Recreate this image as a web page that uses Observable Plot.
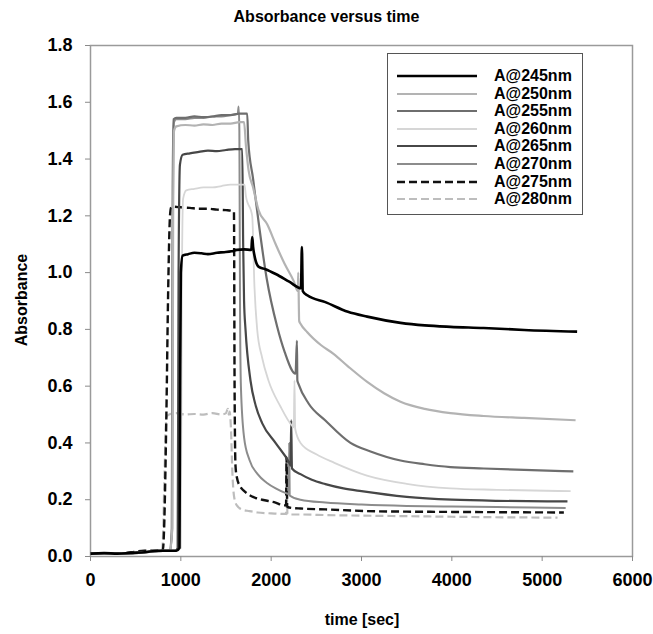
<!DOCTYPE html>
<html>
<head>
<meta charset="utf-8">
<script src="https://cdn.jsdelivr.net/npm/d3@7"></script>
<script src="https://cdn.jsdelivr.net/npm/@observablehq/plot@0.6"></script>
<style>
  html, body { margin: 0; padding: 0; background: #fff; }
  #wrap { position: relative; width: 653px; height: 634px; font-family: "Liberation Sans", Arial, sans-serif; font-weight: bold; color: #000; }
  #title { position: absolute; top: 8px; left: 0; width: 653px; text-align: center; font-size: 16px; }
  #chart { position: absolute; top: 32px; left: 0; }
  #ylabel { position: absolute; left: 22px; top: 300px; transform: translate(-50%, -50%) rotate(-90deg); font-size: 16px; white-space: nowrap; }
  #xlabel { position: absolute; left: 362px; top: 620px; transform: translate(-50%, -50%); font-size: 16px; white-space: nowrap; }
  #legend { position: absolute; left: 387px; top: 53px; width: 196px; height: 162px; border: 1px solid #555; background: #fff; box-sizing: border-box; }
  .row { position: absolute; left: 0; height: 16px; display: flex; align-items: center; }
  .row svg { margin-left: 9px; }
  .row span { margin-left: 17px; font-size: 16px; line-height: 16px; }
</style>
</head>
<body>
<div id="wrap">
  <div id="title">Absorbance versus time</div>
  <div id="chart"></div>
  <div id="ylabel">Absorbance</div>
  <div id="xlabel">time [sec]</div>
  <div id="legend"></div>
</div>
<script>
// ---- data ----
const seriesNames = ["A@245nm", "A@250nm", "A@255nm", "A@260nm", "A@265nm", "A@270nm", "A@275nm", "A@280nm"];
const xTicks = [0, 1000, 2000, 3000, 4000, 5000, 6000];
const yTicks = [0, 0.2, 0.4, 0.6, 0.8, 1.0, 1.2, 1.4, 1.6, 1.8];

const t245 = [0, 150, 300, 450, 600, 750, 850, 950, 985, 992, 1000, 1020, 1080, 1150, 1230, 1300, 1400, 1480, 1560, 1620, 1700, 1780, 1790, 1800, 1815, 1827, 1863, 1937, 2050, 2200, 2330, 2340, 2350, 2400, 2600, 2850, 3063, 3432, 3700, 3985, 4352, 4800, 5387];
const a245 = [0.01, 0.012, 0.01, 0.013, 0.015, 0.02, 0.02, 0.02, 0.03, 0.6, 1.0, 1.06, 1.065, 1.07, 1.068, 1.065, 1.07, 1.072, 1.075, 1.08, 1.082, 1.08, 1.125, 1.09, 1.06, 1.043, 1.02, 1.012, 0.995, 0.968, 0.945, 1.09, 0.935, 0.92, 0.896, 0.862, 0.845, 0.823, 0.814, 0.809, 0.805, 0.798, 0.792];

const t250 = [0, 200, 400, 600, 800, 880, 905, 915, 925, 950, 1050, 1150, 1250, 1350, 1450, 1550, 1650, 1700, 1720, 1750, 1800, 1860, 1956, 2050, 2150, 2250, 2295, 2300, 2310, 2325, 2400, 2550, 2690, 2850, 3063, 3250, 3432, 3700, 3985, 4352, 4800, 5370];
const a250 = [0.01, 0.01, 0.012, 0.015, 0.02, 0.02, 0.1, 1.2, 1.5, 1.515, 1.52, 1.518, 1.522, 1.52, 1.525, 1.525, 1.53, 1.53, 1.45, 1.36, 1.3, 1.22, 1.17, 1.1, 1.03, 0.97, 0.935, 1.0, 0.83, 0.82, 0.79, 0.745, 0.714, 0.67, 0.615, 0.575, 0.545, 0.52, 0.505, 0.495, 0.488, 0.48];

const t255 = [0, 200, 400, 600, 800, 880, 900, 910, 920, 950, 1050, 1150, 1250, 1350, 1450, 1550, 1650, 1735, 1746, 1800, 1860, 1950, 2066, 2150, 2270, 2285, 2290, 2300, 2414, 2600, 2878, 3100, 3432, 3700, 3985, 4352, 4800, 5345];
const a255 = [0.01, 0.012, 0.01, 0.015, 0.02, 0.02, 0.1, 1.3, 1.54, 1.545, 1.545, 1.55, 1.548, 1.55, 1.555, 1.555, 1.56, 1.56, 1.465, 1.33, 1.18, 0.98, 0.81, 0.72, 0.644, 0.76, 0.62, 0.61, 0.539, 0.479, 0.4, 0.37, 0.338, 0.325, 0.315, 0.31, 0.305, 0.3];

const t260 = [0, 200, 400, 600, 800, 950, 1000, 1010, 1025, 1060, 1150, 1250, 1350, 1450, 1550, 1650, 1705, 1720, 1790, 1815, 1845, 1900, 1970, 2100, 2233, 2250, 2258, 2266, 2325, 2500, 2700, 3060, 3500, 3985, 4500, 5315];
const a260 = [0.01, 0.01, 0.012, 0.015, 0.02, 0.02, 0.03, 0.9, 1.26, 1.29, 1.295, 1.3, 1.3, 1.305, 1.31, 1.31, 1.31, 1.27, 1.2, 0.95, 0.8, 0.7, 0.62, 0.53, 0.46, 0.455, 0.62, 0.45, 0.4, 0.36, 0.33, 0.285, 0.256, 0.24, 0.235, 0.23];

const t265 = [0, 200, 400, 600, 800, 940, 965, 975, 990, 1020, 1100, 1200, 1300, 1400, 1500, 1600, 1680, 1690, 1700, 1716, 1771, 1830, 1900, 2048, 2200, 2215, 2222, 2230, 2325, 2450, 2600, 2800, 3000, 3500, 4000, 4500, 5280];
const a265 = [0.01, 0.012, 0.01, 0.015, 0.02, 0.02, 0.03, 1.0, 1.38, 1.415, 1.42, 1.425, 1.43, 1.428, 1.432, 1.435, 1.435, 1.1, 0.9, 0.8, 0.62, 0.53, 0.47, 0.4, 0.33, 0.32, 0.48, 0.31, 0.29, 0.27, 0.255, 0.24, 0.23, 0.21, 0.2, 0.196, 0.194];

const t270 = [0, 200, 400, 600, 800, 880, 905, 912, 925, 950, 1050, 1150, 1250, 1350, 1450, 1550, 1630, 1640, 1648, 1655, 1665, 1700, 1760, 1850, 1950, 2050, 2150, 2195, 2200, 2205, 2325, 2600, 3000, 3500, 4000, 4500, 5260];
const a270 = [0.01, 0.01, 0.012, 0.015, 0.02, 0.02, 0.1, 1.2, 1.53, 1.54, 1.54, 1.545, 1.545, 1.55, 1.55, 1.555, 1.56, 1.585, 1.5, 0.9, 0.6, 0.42, 0.34, 0.29, 0.26, 0.24, 0.225, 0.22, 0.4, 0.215, 0.2, 0.19, 0.183, 0.178, 0.176, 0.174, 0.171];

const t275 = [0, 150, 300, 450, 600, 750, 800, 815, 840, 860, 880, 893, 920, 1000, 1100, 1200, 1300, 1400, 1500, 1560, 1588, 1595, 1605, 1620, 1660, 1697, 1805, 1900, 2048, 2140, 2165, 2170, 2178, 2233, 2325, 2600, 3063, 3500, 4000, 4600, 5240];
const a275 = [0.01, 0.012, 0.01, 0.015, 0.02, 0.02, 0.02, 0.1, 0.5, 0.94, 1.2, 1.23, 1.232, 1.23, 1.228, 1.225, 1.225, 1.222, 1.22, 1.218, 1.215, 0.6, 0.32, 0.279, 0.245, 0.232, 0.209, 0.2, 0.19, 0.18, 0.18, 0.35, 0.175, 0.171, 0.169, 0.166, 0.16, 0.158, 0.157, 0.156, 0.155];

const t280 = [0, 150, 300, 450, 600, 750, 790, 800, 820, 840, 870, 950, 1050, 1150, 1250, 1350, 1450, 1500, 1520, 1530, 1540, 1555, 1570, 1590, 1620, 1680, 1760, 1850, 2000, 2150, 2165, 2172, 2180, 2300, 2600, 3000, 3500, 4000, 4600, 5170];
const a280 = [0.01, 0.012, 0.01, 0.015, 0.02, 0.02, 0.02, 0.05, 0.3, 0.49, 0.5, 0.505, 0.5, 0.502, 0.5, 0.505, 0.5, 0.505, 0.52, 0.5, 0.51, 0.45, 0.3, 0.21, 0.18, 0.165, 0.16, 0.155, 0.152, 0.15, 0.15, 0.28, 0.148, 0.148, 0.146, 0.144, 0.142, 0.14, 0.138, 0.137];

// ---- styles (separate from data) ----
const times = [t245, t250, t255, t260, t265, t270, t275, t280];
const values = [a245, a250, a255, a260, a265, a270, a275, a280];
const styles = [
  {stroke: "#000000", width: 2.6, dash: null},
  {stroke: "#b3b3b3", width: 2.2, dash: null},
  {stroke: "#6e6e6e", width: 2.2, dash: null},
  {stroke: "#d6d6d6", width: 1.8, dash: null},
  {stroke: "#474747", width: 2.2, dash: null},
  {stroke: "#8c8c8c", width: 2.0, dash: null},
  {stroke: "#111111", width: 2.4, dash: "8,4"},
  {stroke: "#bdbdbd", width: 2.2, dash: "8,4"}
];

const lineMarks = seriesNames.map((name, i) => {
  const rows = times[i].map((t, k) => ({series: name, time: t, abs: values[i][k]}));
  return Plot.line(rows, {
    x: "time", y: "abs",
    curve: "monotone-x",
    stroke: styles[i].stroke,
    strokeWidth: styles[i].width,
    strokeDasharray: styles[i].dash,
    strokeLinejoin: "round",
    strokeLinecap: "butt"
  });
}).reverse();

const chart = Plot.plot({
  width: 653,
  height: 602,
  marginLeft: 90,
  marginRight: 21,
  marginTop: 13,
  marginBottom: 78,
  style: {fontFamily: "'Liberation Sans', Arial, sans-serif", fontSize: "18px", fontWeight: "bold", color: "#000", background: "#fff"},
  x: {domain: [0, 6000]},
  y: {domain: [0, 1.8]},
  marks: [
    Plot.frame({stroke: "#9a9a9a", strokeWidth: 1.5}),
    Plot.axisX({ticks: xTicks, tickSize: 5, tickPadding: 12, label: null, stroke: "#8a8a8a", fill: "#000", fontSize: 18, tickFormat: d => String(d)}),
    Plot.axisY({ticks: yTicks, tickSize: 5, tickPadding: 13, label: null, stroke: "#8a8a8a", fill: "#000", fontSize: 18, tickFormat: d => d.toFixed(1)}),
    ...lineMarks
  ]
});
document.getElementById("chart").appendChild(chart);

// ---- legend ----
const legend = document.getElementById("legend");
seriesNames.forEach((name, i) => {
  const row = document.createElement("div");
  row.className = "row";
  row.style.top = (14 + i * 17.6) + "px";
  const s = styles[i];
  row.innerHTML = `<svg width="80" height="8"><line x1="0" y1="4" x2="80" y2="4" stroke="${s.stroke}" stroke-width="${s.width}" ${s.dash ? `stroke-dasharray="${s.dash}"` : ""}/></svg><span>${name}</span>`;
  legend.appendChild(row);
});
</script>
</body>
</html>
